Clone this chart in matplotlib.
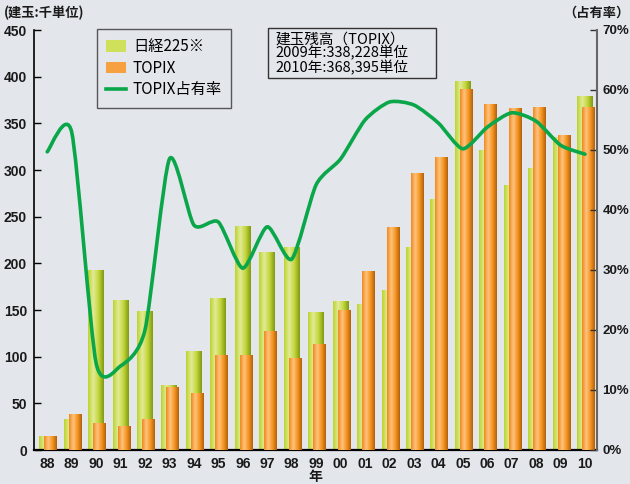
import numpy as np
import matplotlib
matplotlib.use("Agg")
import matplotlib.pyplot as plt
from matplotlib.colors import LinearSegmentedColormap
from matplotlib.path import Path
from matplotlib.patches import PathPatch, Patch, Rectangle
from matplotlib.lines import Line2D

# データ
years = ['88', '89', '90', '91', '92', '93', '94', '95', '96', '97', '98', '99',
         '00', '01', '02', '03', '04', '05', '06', '07', '08', '09', '10']
nikkei225 = [15, 33, 193, 161, 149, 70, 106, 163, 240, 212, 217, 148,
             160, 156, 171, 217, 269, 395, 321, 284, 302, 335, 379]
topix = [15, 39, 29, 26, 33, 67, 61, 102, 102, 127, 99, 114,
         150, 192, 239, 297, 314, 387, 371, 366, 368, 338, 368]
share = [49.7, 53.0, 14.5, 14.0, 20.0, 48.5, 37.5, 38.0, 30.3, 37.2, 31.8, 44.2,
         48.5, 55.0, 58.0, 57.5, 54.5, 50.2, 53.8, 56.2, 54.8, 50.8, 49.3]

BG = '#e3e6eb'
JP = ['Noto Sans CJK JP', 'DejaVu Sans']
NUM = ['Liberation Sans', 'DejaVu Sans']

green_cm = LinearSegmentedColormap.from_list(
    'g', ['#bcd42c', '#e2eb98', '#c3d63a', '#7f9a12'], N=64)
orange_cm = LinearSegmentedColormap.from_list(
    'o', ['#ef8a1c', '#ffc27e', '#f5951f', '#b2600c'], N=64)
grad = np.linspace(0, 1, 64).reshape(1, -1)

fig = plt.figure(figsize=(6.3, 4.84), dpi=100, facecolor=BG)
ax = fig.add_axes([34/630, 1-450/484, (597-34)/630, (450-30)/484])
ax.set_facecolor('none')

x = np.arange(len(years))


def gradient_bars(xpos, vals, width, cmap, z):
    bars = ax.bar(xpos, vals, width, color=cmap(0.5), zorder=z, linewidth=0)
    for b in bars:
        im = ax.imshow(grad, cmap=cmap, aspect='auto', zorder=z + 0.1,
                       extent=[b.get_x(), b.get_x() + b.get_width(), 0, b.get_height()])
        im.set_clip_path(b)
    return bars


gradient_bars(x, nikkei225, 0.65, green_cm, 2)
gradient_bars(x + 0.145, topix, 0.53, orange_cm, 3)

ax.set_xlim(-0.54, 22.49)
ax.set_ylim(0, 450)
ax.set_yticks(range(0, 451, 50))
ax.set_xticks(x)
ax.set_xticklabels(years)
for s in ['top', 'right']:
    ax.spines[s].set_visible(False)
ax.spines['left'].set_linewidth(1.2)
ax.spines['bottom'].set_linewidth(1.6)
ax.tick_params(axis='y', direction='in', length=5, width=1, pad=5)
ax.tick_params(axis='x', length=0, pad=5)
for lab in ax.get_xticklabels() + ax.get_yticklabels():
    lab.set_family(NUM)
    lab.set_fontweight('bold')
    lab.set_fontsize(10)
    lab.set_color('#1a1a1a')

# 占有率(右軸)
ax2 = ax.twinx()
ax2.set_ylim(0, 70)
ax2.set_yticks(range(0, 71, 10))
ax2.set_yticklabels([f'{v}%' for v in range(0, 71, 10)])
for s in ['top', 'left', 'bottom']:
    ax2.spines[s].set_visible(False)
ax2.spines['right'].set_color('#666666')
ax2.spines['right'].set_linewidth(1.5)
ax2.tick_params(axis='y', direction='in', length=5, width=1, pad=4, color='#333333')
for lab in ax2.get_yticklabels():
    lab.set_family(NUM)
    lab.set_fontweight('bold')
    lab.set_fontsize(9.5)
    lab.set_color('#1a1a1a')

# 滑らかな線 (Catmull-Rom -> Bezier, 張力弱め)
t = 0.7
pts = np.column_stack([x, share]).astype(float)
ext = np.vstack([pts[0], pts, pts[-1]])
verts = [tuple(pts[0])]
codes = [Path.MOVETO]
for i in range(len(pts) - 1):
    p0, p1, p2, p3 = ext[i], ext[i + 1], ext[i + 2], ext[i + 3]
    c1 = p1 + t * (p2 - p0) / 6
    c2 = p2 - t * (p3 - p1) / 6
    verts += [tuple(c1), tuple(c2), tuple(p2)]
    codes += [Path.CURVE4] * 3
ax2.add_patch(PathPatch(Path(verts, codes), fill=False, edgecolor='#0aa64a',
                        linewidth=2.6, capstyle='round', joinstyle='round', zorder=5))

# 凡例
handles = [Patch(facecolor='#cfe05a', edgecolor='none'),
           Patch(facecolor='#f7a040', edgecolor='none'),
           Line2D([], [], color='#0aa64a', linewidth=2.6)]
leg = ax2.legend(handles, ['日経225※', 'TOPIX', 'TOPIX占有率'],
                 loc='upper left', bbox_to_anchor=(97/630, 1-29/484),
                 bbox_transform=fig.transFigure, frameon=True, fancybox=False,
                 prop={'family': JP, 'size': 11}, handlelength=1.3,
                 handleheight=0.8, handletextpad=0.45, labelspacing=0.3,
                 borderpad=0.6, borderaxespad=0)
leg.get_frame().set_edgecolor('#333333')
leg.get_frame().set_linewidth(1.0)
leg.get_frame().set_facecolor(BG)

# 注記
fig.patches.append(Rectangle((268/630, 1-78/484), (436-268)/630, 50/484,
                             transform=fig.transFigure, facecolor=BG,
                             edgecolor='#333333', linewidth=1, zorder=10))
fig.text(275/630, 1-32.5/484, '建玉残高（TOPIX）\n2009年:338,228単位\n2010年:368,395単位',
         family=JP, fontsize=10.5, va='top', ha='left', linespacing=0.92, zorder=11)

fig.text(4/630, 1-13/484, '(建玉:千単位)', family=JP, fontsize=9.5, fontweight='bold',
         va='center', ha='left', color='#1a1a1a')
fig.text(629/630, 1-13/484, '（占有率）', family=JP, fontsize=9.5, fontweight='bold',
         va='center', ha='right', color='#1a1a1a')
fig.text(315/630, 1-477/484, '年', family=JP, fontsize=10, fontweight='bold',
         va='center', ha='center', color='#1a1a1a')

fig.savefig('out.png', dpi=100, facecolor=BG)
